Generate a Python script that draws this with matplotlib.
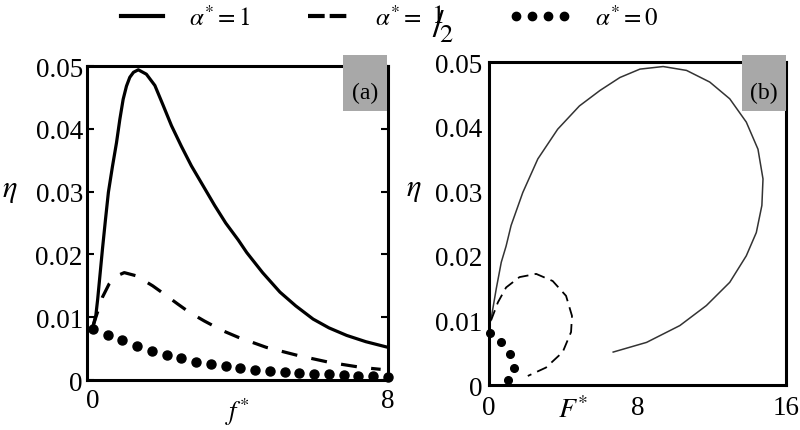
import numpy as np
import matplotlib
matplotlib.use("Agg")
import matplotlib.pyplot as plt
from matplotlib.lines import Line2D
from matplotlib.patches import Rectangle

plt.rcParams['font.family'] = ['Liberation Serif', 'DejaVu Serif']
plt.rcParams['mathtext.fontset'] = 'stix'

# panel (a): eta vs f*
f_a1 = [0.0, 0.08, 0.13, 0.26, 0.34, 0.42, 0.53, 0.64, 0.73, 0.82, 0.91, 1.0, 1.1, 1.23,
        1.45, 1.68, 1.9, 2.13, 2.4, 2.67, 3.0, 3.3, 3.6, 3.94, 4.17, 4.6, 5.07, 5.5, 5.97,
        6.4, 6.88, 7.4, 8.0]
eta_a1 = [0.0085, 0.0103, 0.0129, 0.0209, 0.0255, 0.0299, 0.0340, 0.0378, 0.0415, 0.0447,
          0.0468, 0.0482, 0.0490, 0.0494, 0.0487, 0.0469, 0.0438, 0.0405, 0.0372, 0.0341,
          0.0308, 0.0278, 0.0250, 0.0223, 0.0203, 0.0171, 0.0140, 0.0118, 0.0097, 0.0083,
          0.0071, 0.0061, 0.0052]

f_a2 = [0.0, 0.08, 0.26, 0.44, 0.62, 0.85, 1.17, 1.62, 1.93, 2.3, 2.61, 3.02, 3.5, 3.94,
        4.7, 5.56, 6.42, 7.28, 7.8]
eta_a2 = [0.0085, 0.0100, 0.0132, 0.0153, 0.0165, 0.0171, 0.0166, 0.0150, 0.0137, 0.0121,
          0.0108, 0.0094, 0.0079, 0.0068, 0.0052, 0.0039, 0.0028, 0.0020, 0.0017]

f_a3 = [0.0, 0.4, 0.8, 1.2, 1.6, 2.0, 2.4, 2.8, 3.2, 3.6, 4.0, 4.4, 4.8, 5.2, 5.6, 6.0,
        6.4, 6.8, 7.2, 7.6, 8.0]
eta_a3 = [0.0082, 0.0072, 0.0063, 0.0054, 0.0046, 0.0040, 0.0035, 0.0029, 0.0025, 0.0022,
          0.0019, 0.0016, 0.0014, 0.0012, 0.0011, 0.0010, 0.0009, 0.0008, 0.0007, 0.0006,
          0.0005]

# panel (b): eta vs F*
F_b1 = [0.0, 0.1, 0.38, 0.65, 0.91, 1.18, 1.81, 2.62, 3.69, 4.86, 5.97, 7.04, 8.12, 9.37,
        10.63, 11.88, 12.96, 13.85, 14.48, 14.75, 14.69, 14.39, 13.85, 12.96, 11.7, 10.27,
        8.48, 6.68]
eta_b1 = [0.0092, 0.0102, 0.0149, 0.0190, 0.0215, 0.0247, 0.0298, 0.0350, 0.0396, 0.0432,
          0.0456, 0.0476, 0.0489, 0.0493, 0.0487, 0.0469, 0.0443, 0.0407, 0.0365, 0.0319,
          0.0278, 0.0236, 0.0200, 0.0159, 0.0123, 0.0092, 0.0066, 0.0051]

F_b2 = [0.1, 0.47, 0.91, 1.63, 2.53, 3.42, 4.14, 4.46, 4.41, 3.96, 3.06, 2.08]
eta_b2 = [0.0100, 0.0128, 0.0151, 0.0167, 0.0172, 0.0161, 0.0138, 0.0107, 0.0082, 0.0051,
          0.0027, 0.0014]

F_b3 = [0.02, 0.65, 1.13, 1.36, 1.0]
eta_b3 = [0.0080, 0.0067, 0.0048, 0.0027, 0.0007]

yticks = [0, 0.01, 0.02, 0.03, 0.04, 0.05]
ytick_labels = ['0', '0.01', '0.02', '0.03', '0.04', '0.05']

fig = plt.figure(figsize=(8, 4.31), dpi=100)

# ---- panel (a)
ax1 = fig.add_axes([0.10875, 0.116, 0.37625, 0.7285])
ax1.plot(f_a1, eta_a1, color='black', lw=2.3, solid_joinstyle='round')
ax1.plot(f_a2, eta_a2, color='black', lw=2.3, dashes=(5, 4.5))
ax1.plot(f_a3, eta_a3, color='black', ls='none', marker='o', ms=6.5, clip_on=False)
ax1.set_xlim(-0.16, 8)
ax1.set_ylim(0, 0.05)
ax1.set_xticks([0, 8])
ax1.set_xticklabels(['0', '8'])
ax1.set_yticks(yticks)
ax1.set_yticklabels(ytick_labels)
ax1.tick_params(axis='y', direction='in', left=True, right=True, length=5, width=1.5,
                labelsize=19.5, pad=3)
ax1.tick_params(axis='x', length=0, labelsize=19.5, pad=6)
ax1.set_xlabel(r'$f^{*}$', fontsize=19)
ax1.xaxis.set_label_coords(0.5, -0.05)
ax1.xaxis.label.set_va('top')
ax1.set_ylabel(r'$\eta$', fontsize=22, rotation=0)
ax1.yaxis.set_label_coords(-0.256, 0.608)
ax1.yaxis.label.set_va('center')
for s in ax1.spines.values():
    s.set_linewidth(2.2)

# ---- panel (b)
ax2 = fig.add_axes([0.6115, 0.1044, 0.37125, 0.7494])
ax2.plot(F_b1, eta_b1, color='#333333', lw=1.1)
ax2.plot(F_b2, eta_b2, color='black', lw=1.3, dashes=(6, 3.5))
ax2.plot(F_b3, eta_b3, color='black', ls='none', marker='o', ms=5.5, clip_on=False)
ax2.set_xlim(0, 16)
ax2.set_ylim(0, 0.05)
ax2.set_xticks([0, 8, 16])
ax2.set_xticklabels(['0', '8', '16'])
ax2.set_yticks(yticks)
ax2.set_yticklabels(ytick_labels)
ax2.tick_params(axis='both', length=0, labelsize=19.5)
ax2.tick_params(axis='y', pad=5)
ax2.tick_params(axis='x', pad=7)
ax2.set_xlabel(r'$F^{*}$', fontsize=20)
ax2.xaxis.set_label_coords(0.284, -0.035)
ax2.xaxis.label.set_va('top')
ax2.set_ylabel(r'$\eta$', fontsize=22, rotation=0)
ax2.yaxis.set_label_coords(-0.255, 0.607)
ax2.yaxis.label.set_va('center')
for s in ax2.spines.values():
    s.set_linewidth(2.2)

# gray panel tags
for x0, tag in [(0.42875, '(a)'), (0.92715, '(b)')]:
    fig.add_artist(Rectangle((x0, 0.7401), 0.055, 0.1299, transform=fig.transFigure,
                             facecolor='#a8a8a8', edgecolor='none', zorder=5))
    fig.text(x0 + 0.0275, 0.7843, tag, fontsize=17, ha='center', va='center', zorder=6)

# legend across the top
h1 = Line2D([], [], color='black', lw=3)
h2 = Line2D([], [], color='black', lw=3, dashes=(4, 1.2))
h3 = Line2D([], [], color='black', ls='none', marker='o', ms=6)
for h, lab, x, hl, tp in [(h1, r'$\alpha^{*}=1$', 0.1425, 2.24, 0.76),
                          (h2, r'$\alpha^{*}=$', 0.375, 2.16, 0.84),
                          (h3, r'$\alpha^{*}=0$', 0.6356, 2.52, 0.94)]:
    fig.legend(handles=[h], labels=[lab], loc='center left', bbox_to_anchor=(x, 0.958),
               frameon=False, fontsize=18, handlelength=hl, handletextpad=tp,
               borderpad=0, borderaxespad=0, numpoints=4)

# slanted fraction 1/2 in the middle legend entry
fig.text(0.539, 0.942, r'${}^{1}\!\!\!/\!{}_{2}$', fontsize=27, ha='left', va='center')

fig.savefig('out.png', dpi=100)
